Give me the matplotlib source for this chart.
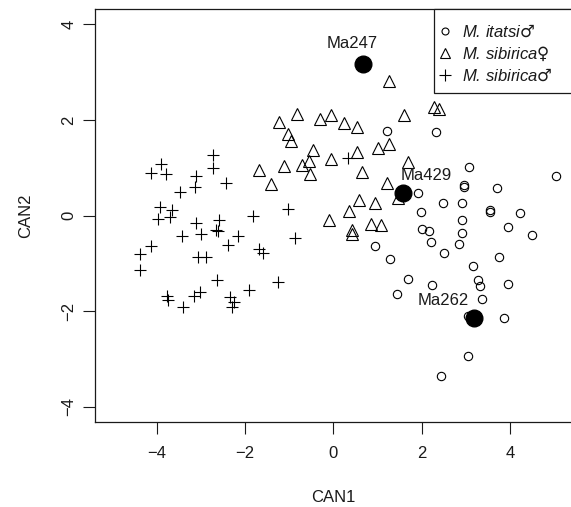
import matplotlib
matplotlib.use("Agg")
import matplotlib.pyplot as plt
from matplotlib.lines import Line2D
from matplotlib.patches import Rectangle

plt.rcParams['font.family'] = ['Liberation Sans', 'DejaVu Sans']
plt.rcParams['mathtext.fontset'] = 'dejavusans'

# M. itatsi male (circles)
itatsi_x = [1.21, 2.32, 3.07, 5.04, 2.95, 2.95, 3.71, 1.91, 2.49, 2.91, 1.99, 3.56, 3.56, 4.23,
            2.91, 2.00, 2.17, 2.91, 3.96, 4.51, 0.95, 2.21, 2.85, 2.51, 1.28, 3.75, 3.17, 1.70,
            2.23, 3.27, 3.32, 3.95, 1.44, 3.36, 3.06, 3.87, 3.06, 2.44]
itatsi_y = [1.78, 1.76, 1.01, 0.84, 0.65, 0.61, 0.57, 0.48, 0.26, 0.26, 0.08, 0.12, 0.07, 0.05,
            -0.08, -0.28, -0.33, -0.36, -0.24, -0.40, -0.63, -0.56, -0.60, -0.79, -0.91, -0.86,
            -1.05, -1.33, -1.46, -1.35, -1.47, -1.42, -1.64, -1.74, -2.10, -2.15, -2.93, -3.35]

# M. sibirica female (triangles)
sibf_x = [-0.82, -1.23, -0.30, -0.05, -1.02, -0.96, -0.45, -0.05, -1.69, -1.11, -0.71, -0.55,
          -0.52, -1.42, -0.10, 1.26, 2.27, 2.39, 1.60, 0.24, 0.54, 1.02, 1.25, 0.53, 1.70, 0.66,
          1.21, 0.57, 0.94, 0.36, 1.47, 0.85, 1.08, 0.43, 0.43]
sibf_y = [2.13, 1.95, 2.02, 2.10, 1.71, 1.56, 1.37, 1.19, 0.96, 1.04, 1.06, 1.14,
          0.87, 0.66, -0.09, 2.82, 2.28, 2.23, 2.11, 1.93, 1.85, 1.42, 1.51, 1.34, 1.13, 0.92,
          0.69, 0.33, 0.27, 0.10, 0.36, -0.17, -0.19, -0.29, -0.39]

# M. sibirica male (plus)
sibm_x = [-2.72, -2.72, -3.91, -4.13, -3.79, -3.11, -3.13, -2.44, -3.47, -1.02, -3.93, -3.65,
          -3.98, -3.70, -3.11, -2.59, -2.66, -2.62, -1.81, -3.43, -3.00, -2.17, -2.38, -4.13,
          -4.39, -4.38, -3.07, -2.89, -1.69, -1.59, -0.86, -2.63, -1.25, -1.90, -3.77, -3.75,
          -3.40, -3.15, -3.02, -2.34, -2.26, -2.30, 0.34]
sibm_y = [1.26, 0.99, 1.08, 0.89, 0.87, 0.84, 0.59, 0.68, 0.49, 0.14, 0.19, 0.11,
          -0.07, -0.03, -0.16, -0.09, -0.30, -0.33, 0.00, -0.42, -0.38, -0.42, -0.61, -0.63,
          -0.81, -1.14, -0.86, -0.86, -0.70, -0.77, -0.46, -1.35, -1.38, -1.55, -1.69, -1.76,
          -1.90, -1.68, -1.60, -1.71, -1.80, -1.92, 1.20]

# highlighted specimens
spec_names = ["Ma247", "Ma429", "Ma262"]
spec_x = [0.67, 1.57, 3.19]
spec_y = [3.17, 0.48, -2.13]
label_offsets = [(-8, 15), (17, 12.5), (-22, 12.5)]  # points

legend_labels = ["M. itatsi$♂$", "M. sibirica$♀$", "M. sibirica$♂$"]
tick_vals = [-4, -2, 0, 2, 4]
tick_text = ["\u22124", "\u22122", "0", "2", "4"]

FS = 12
INK = '#1a1a1a'

fig = plt.figure(figsize=(5.71, 5.07), dpi=100)
ax = fig.add_axes([95/571, (507-422.2)/507, 476.7/571, (422.2-9.2)/507])

lw = 0.8
ax.plot(itatsi_x, itatsi_y, linestyle='none', marker='o', markersize=6, mfc='none',
        mec='black', mew=lw)
ax.plot(sibf_x, sibf_y, linestyle='none', marker='^', markersize=8.5, mfc='none',
        mec='black', mew=lw)
ax.plot(sibm_x, sibm_y, linestyle='none', marker='+', markersize=9, mec='black', mew=lw)
ax.plot(spec_x, spec_y, linestyle='none', marker='o', markersize=12, mfc='black',
        mec='black', zorder=5)
for n, x, y, off in zip(spec_names, spec_x, spec_y, label_offsets):
    ax.annotate(n, (x, y), xytext=off, textcoords='offset points', ha='center',
                va='center', fontsize=FS, color=INK, zorder=6)

ax.set_xlim(-5.4, 5.4)
ax.set_ylim(-4.32, 4.32)
ax.set_xticks(tick_vals)
ax.set_yticks(tick_vals)
ax.set_xticklabels(tick_text)
ax.set_yticklabels(tick_text, rotation=90, va='center')
ax.tick_params(direction='out', length=8.4, width=0.8, labelsize=FS, colors=INK)
ax.tick_params(axis='x', pad=8.5)
ax.tick_params(axis='y', pad=5)
for s in ax.spines.values():
    s.set_linewidth(0.9)
    s.set_color(INK)

ax.set_xlabel("CAN1", fontsize=FS, labelpad=21, color=INK)
ax.set_ylabel("CAN2", fontsize=FS, labelpad=20.5, color=INK)

handles = [
    Line2D([], [], linestyle='none', marker='o', markersize=5, mfc='none', mec='black', mew=lw),
    Line2D([], [], linestyle='none', marker='^', markersize=6.5, mfc='none', mec='black', mew=lw),
    Line2D([], [], linestyle='none', marker='+', markersize=8, mec='black', mew=lw),
]
box_left = (434 - 95) / 476.7
box_bottom = (422.2 - 93) / 413.0
ax.add_patch(Rectangle((box_left, box_bottom), 1.2 - box_left, 1.0 - box_bottom,
                       transform=ax.transAxes, fill=True, facecolor='white',
                       edgecolor=INK, linewidth=0.9, clip_on=False, zorder=7))
leg = ax.legend(handles, legend_labels, loc='upper left',
                bbox_to_anchor=(box_left, 1.0 - 7.0 / 413.0), frameon=False,
                prop={'style': 'italic', 'size': FS}, handlelength=0.5,
                handletextpad=0.75, borderpad=0.42, labelspacing=0.28, borderaxespad=0)
leg.set_zorder(8)
for t in leg.get_texts():
    t.set_color(INK)

fig.savefig("out.png", dpi=100)
